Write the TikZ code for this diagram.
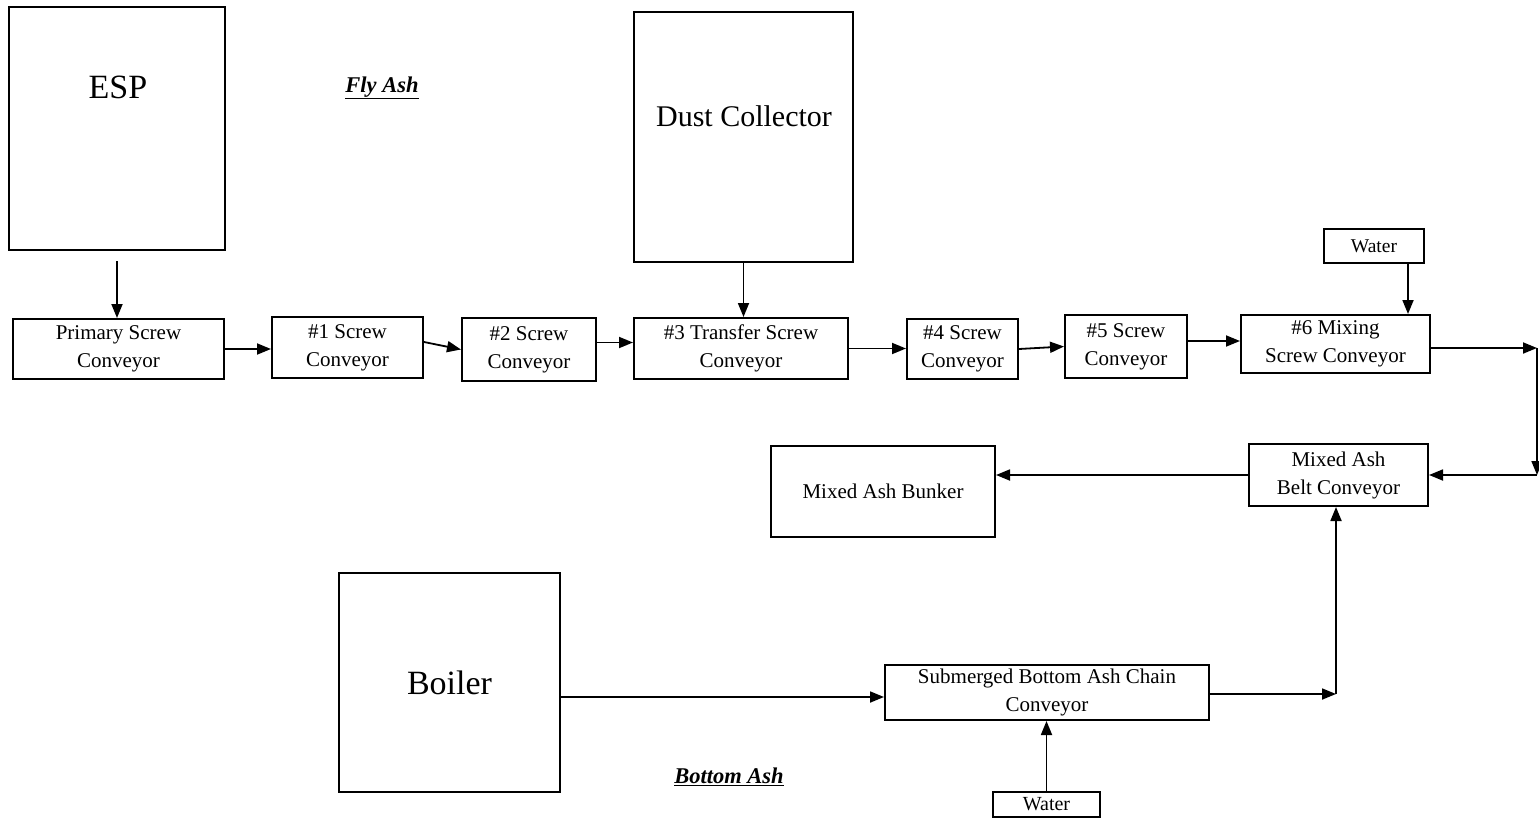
\documentclass[tikz,border=0pt]{standalone}
\usepackage{fontspec}
\setmainfont{Liberation Serif}
\usetikzlibrary{arrows.meta}
\begin{document}
\begin{tikzpicture}[x=1pt,y=-1pt,
  box/.style={draw, line width=2pt, inner sep=0pt, align=center,
    font=\fontsize{21}{28}\selectfont},
  big/.style={inner sep=0pt},
  lbl/.style={inner sep=0pt, font=\fontsize{22.5}{26}\selectfont\bfseries\itshape},
  arr/.style={line width=1.8pt, -{Triangle[length=14pt,width=11pt]}}]
\useasboundingbox (0,0) rectangle (1539,819);
\fill[white] (0,0) rectangle (1539,819);
% big boxes
\node[box, minimum width=216pt, minimum height=243pt] (esp) at (117,128.5) {};
\node[big, font=\fontsize{34}{40}\selectfont] (esptext) at (118,87) {ESP};
\node[box, minimum width=219pt, minimum height=250pt] (dust) at (743.5,137) {};
\node[big, font=\fontsize{30}{36}\selectfont] (dusttext) at (744,116) {Dust Collector};
\node[box, minimum width=221pt, minimum height=219pt, font=\fontsize{34}{40}\selectfont] (boiler) at (449.5,682.5) {Boiler};
% labels
\node[lbl] (fly) at (382,88) {\underline{Fly Ash}};
\node[lbl] (bot) at (729,777) {\underline{Bottom Ash}};
% conveyors
\node[box, minimum width=211pt, minimum height=60pt] (prim) at (118.5,349) {Primary Screw\\Conveyor};
\node[box, minimum width=151pt, minimum height=61pt] (n1) at (347.5,347.5) {\#1 Screw\\Conveyor};
\node[box, minimum width=134pt, minimum height=63pt] (n2) at (529,349.5) {\#2 Screw\\Conveyor};
\node[box, minimum width=214pt, minimum height=61pt] (n3) at (741,348.5) {\#3 Transfer Screw\\Conveyor};
\node[box, minimum width=111pt, minimum height=60pt] (n4) at (962.5,349) {\#4 Screw\\Conveyor};
\node[box, minimum width=122pt, minimum height=63pt] (n5) at (1126,346.5) {\#5 Screw\\Conveyor};
\node[box, minimum width=189pt, minimum height=58pt] (n6) at (1335.5,344) {\#6 Mixing\\Screw Conveyor};
\node[box, minimum width=100pt, minimum height=34pt, font=\fontsize{19.5}{24}\selectfont] (wt) at (1374,246) {Water};
\node[box, minimum width=179pt, minimum height=62pt] (belt) at (1338.5,475) {Mixed Ash\\Belt Conveyor};
\node[box, minimum width=224pt, minimum height=91pt] (bunker) at (883,491.5) {Mixed Ash Bunker};
\node[box, minimum width=324pt, minimum height=55pt] (sub) at (1047,692.5) {Submerged Bottom Ash Chain\\Conveyor};
\node[box, minimum width=107pt, minimum height=25pt, font=\fontsize{20}{24}\selectfont] (wb) at (1046.5,804.5) {Water};
% coordinates
\coordinate (c1) at (1537,348);
\coordinate (c2) at (1537,475);
\coordinate (c3) at (1336,694);
% arrows
\draw[arr] ([yshift=-10pt]esp.south) -- (esp.south |- prim.north);
\draw[arr] (dust.south) -- (dust.south |- n3.north);
\draw[arr] (prim.east) -- (prim.east -| n1.west);
\draw[arr] ([yshift=5.5pt]n1.east) -- (n2.west);
\draw[arr] ([yshift=7pt]n2.east) -- ([yshift=7pt]n2.east -| n3.west);
\draw[arr] (n3.east) -- (n3.east -| n4.west);
\draw[arr] (n4.east) -- (n5.west);
\draw[arr] ([yshift=5.5pt]n5.east) -- ([yshift=5.5pt]n5.east -| n6.west);
\draw[arr] ([xshift=34pt]wt.south) -- ([xshift=34pt]wt.south |- n6.north);
\draw[arr] ([yshift=-4pt]n6.east) -- (c1);
\draw[arr] (c1) -- (c2);
\draw[arr] (c2) -- (belt.east);
\draw[arr] (belt.west) -- (belt.west -| bunker.east);
\path ([yshift=-4.5pt]sub.west) coordinate (s1);
\draw[arr] (s1 -| boiler.east) -- (s1);
\draw[arr] (sub.east |- c3) -- (c3);
\draw[arr] (c3) -- (c3 |- belt.south);
\draw[arr] (wb.north) -- (wb.north |- sub.south);
\end{tikzpicture}
\end{document}
